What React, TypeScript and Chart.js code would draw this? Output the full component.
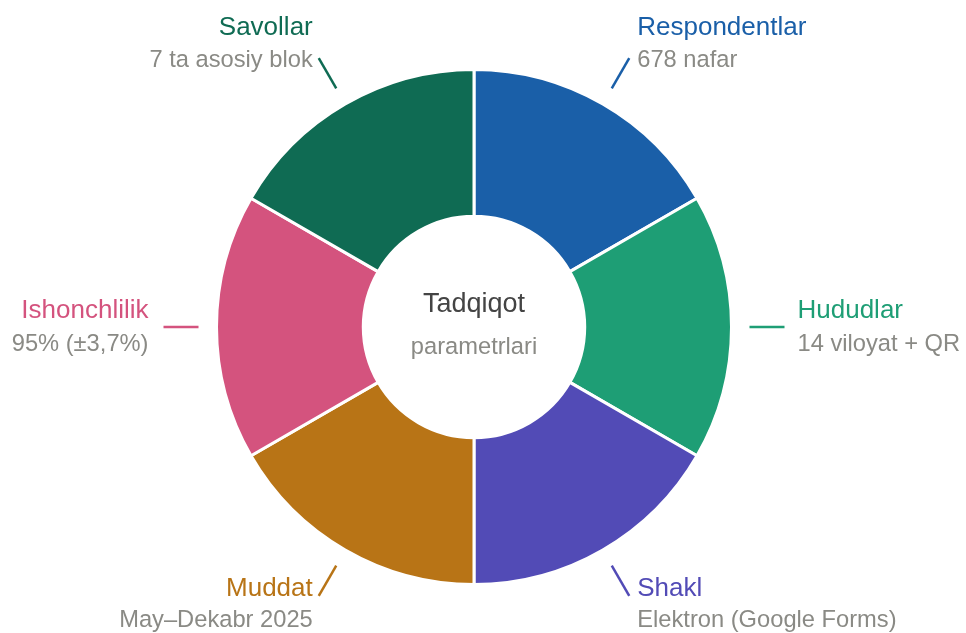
import React, { useEffect, useRef } from "react";
import { Chart, registerables } from "chart.js";

Chart.register(...registerables);

const categories = ["Respondentlar", "Hududlar", "Shakl", "Muddat", "Ishonchlilik", "Savollar"];
const details = ["678 nafar", "14 viloyat + QR", "Elektron (Google Forms)", "May–Dekabr 2025", "95% (±3,7%)", "7 ta asosiy blok"];
const values = [1, 1, 1, 1, 1, 1];
const colors = ["#1a5fa8", "#1e9e75", "#524bb6", "#b87416", "#d4537e", "#0f6b53"];
const centerTitle = "Tadqiqot";
const centerSubtitle = "parametrlari";

const FONT = "'Liberation Sans', Arial, sans-serif";

const labelPlugin = {
  id: "outerLabels",
  afterDraw(chart: any) {
    const ctx = chart.ctx;
    const meta = chart.getDatasetMeta(0);
    ctx.save();
    meta.data.forEach((arc: any, i: number) => {
      const { x: cx, y: cy, startAngle, endAngle, outerRadius } = arc.getProps(
        ["x", "y", "startAngle", "endAngle", "outerRadius"],
        true
      );
      const mid = (startAngle + endAngle) / 2;
      const cos = Math.cos(mid);
      const sin = Math.sin(mid);
      const r1 = outerRadius + 18;
      const r2 = outerRadius + 53;
      const x1 = cx + cos * r1;
      const y1 = cy + sin * r1;
      const x2 = cx + cos * r2;
      const y2 = cy + sin * r2;
      ctx.strokeStyle = colors[i];
      ctx.lineWidth = 2.5;
      ctx.beginPath();
      ctx.moveTo(x1, y1);
      ctx.lineTo(x2, y2);
      ctx.stroke();

      const right = cos >= 0;
      const side = Math.abs(sin) <= 0.5;
      const gap = side ? (right ? 13 : 15) : right ? 8 : 6;
      const tx = x2 + (right ? gap : -gap);
      ctx.textAlign = right ? "left" : "right";
      ctx.textBaseline = "middle";
      let ty1: number;
      let ty2: number;
      if (sin < -0.5) {
        ty1 = y2 - 30;
        ty2 = y2 + 2;
      } else if (sin > 0.5) {
        ty1 = y2 - 7;
        ty2 = y2 + 25;
      } else {
        ty1 = y2 - 16;
        ty2 = y2 + 17;
      }
      ctx.font = `26px ${FONT}`;
      ctx.fillStyle = colors[i];
      ctx.fillText(categories[i], tx, ty1);
      ctx.font = `23.7px ${FONT}`;
      ctx.fillStyle = "#8a8a85";
      ctx.fillText(details[i], tx, ty2);
    });

    const a0 = meta.data[0];
    if (a0) {
      const cx = a0.x;
      const cy = a0.y;
      ctx.textAlign = "center";
      ctx.textBaseline = "middle";
      ctx.font = `27px ${FONT}`;
      ctx.fillStyle = "#444444";
      ctx.fillText(centerTitle, cx, cy - 22);
      ctx.font = `23.7px ${FONT}`;
      ctx.fillStyle = "#8a8a85";
      ctx.fillText(centerSubtitle, cx, cy + 20);
    }
    ctx.restore();
  },
};

export default function App() {
  const ref = useRef<HTMLCanvasElement>(null);
  useEffect(() => {
    document.body.style.margin = "0";
    const chart = new Chart(ref.current!, {
      type: "doughnut",
      data: {
        labels: categories,
        datasets: [
          {
            data: values,
            backgroundColor: colors,
            borderColor: "#ffffff",
            borderWidth: 3,
            hoverOffset: 0,
          },
        ],
      },
      options: {
        responsive: false,
        animation: false,
        cutout: "43%",
        layout: { padding: { top: 68, bottom: 47, left: 200, right: 218 } },
        plugins: {
          legend: { display: false },
          tooltip: { enabled: false },
        },
      },
      plugins: [labelPlugin],
    });
    return () => chart.destroy();
  }, []);
  return (
    <div style={{ width: 966, height: 633, position: "relative" }}>
      <canvas ref={ref} width={966} height={633} style={{ display: "block" }} />
    </div>
  );
}
